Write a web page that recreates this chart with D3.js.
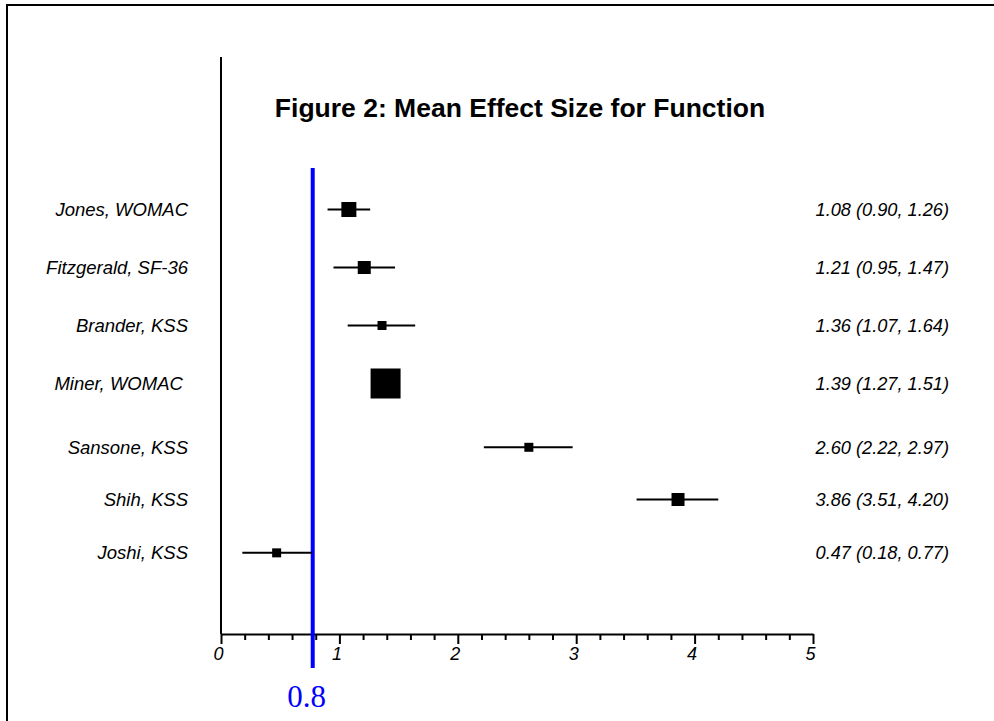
<!DOCTYPE html>
<html>
<head>
<meta charset="utf-8">
<script src="https://cdn.jsdelivr.net/npm/d3@7"></script>
<style>
  body { margin: 0; background: #fff; }
  svg text { font-family: "Liberation Sans", Arial, sans-serif; }
</style>
</head>
<body>
<svg id="chart" width="994" height="721"></svg>
<script>
var studies = ["Jones, WOMAC", "Fitzgerald, SF-36", "Brander, KSS", "Miner, WOMAC ", "Sansone, KSS", "Shih, KSS", "Joshi, KSS"],
  effect = [1.08, 1.21, 1.36, 1.39, 2.60, 3.86, 0.47],
  lower = [0.90, 0.95, 1.07, 1.27, 2.22, 3.51, 0.18],
  upper = [1.26, 1.47, 1.64, 1.51, 2.97, 4.20, 0.77],
  weight = [7.5, 6.5, 4.5, 15, 4.5, 6.5, 4.5],
  row = [1, 2, 3, 4, 5.1, 6, 6.92],
  xTicks = [0, 1, 2, 3, 4, 5],
  refValue = 0.8,
  refLabel = "0.8",
  title = "Figure 2: Mean Effect Size for Function";

var svg = d3.select("#chart");

// frame around the figure
svg.append("rect")
  .attr("x", 7).attr("y", 5)
  .attr("width", 1000).attr("height", 730)
  .attr("fill", "none")
  .attr("stroke", "#000")
  .attr("stroke-width", 2);

var x = d3.scaleLinear()
  .domain([0, 5])
  .range([221, 813]);

var y = d3.scaleLinear()
  .domain([1, 2])
  .range([209.5, 267.5]);

var size = d3.scaleLinear()
  .domain([0, 15])
  .range([0, 30]);

// title
svg.append("text")
  .attr("x", 520)
  .attr("y", 117)
  .attr("text-anchor", "middle")
  .style("font-size", "26.5px")
  .style("font-weight", "bold")
  .text(title);

// y axis line
svg.append("line")
  .attr("x1", x(0)).attr("x2", x(0))
  .attr("y1", 57).attr("y2", 634)
  .attr("stroke", "#000")
  .attr("stroke-width", 2);

// minor ticks
var minor = d3.range(0, 50).map(function (i) { return i / 10; })
  .filter(function (v, i) { return i % 2 == 0 && i % 10 != 0; });

svg.append("g")
  .attr("transform", "translate(0,634)")
  .call(d3.axisBottom(x).tickValues(minor).tickSize(6).tickSizeOuter(0).tickFormat(""))
  .call(function (g) { g.select(".domain").remove(); })
  .selectAll("line").attr("stroke-width", 2);

var xAxis = svg.append("g")
  .attr("transform", "translate(0,634)")
  .call(d3.axisBottom(x).tickValues(xTicks).tickSize(10).tickSizeOuter(0).tickFormat(d3.format("d")));

xAxis.select(".domain").attr("stroke-width", 2);
xAxis.selectAll("line").attr("stroke-width", 2);
xAxis.selectAll("text")
  .style("font-family", "'Liberation Sans', Arial, sans-serif")
  .style("font-size", "18px")
  .style("font-style", "italic")
  .attr("fill", "#000")
  .attr("dx", -3)
  .attr("y", 13);

// reference line
svg.append("line")
  .attr("x1", x(refValue) - 3).attr("x2", x(refValue) - 3)
  .attr("y1", 168).attr("y2", 668)
  .attr("stroke", "#0000ff")
  .attr("stroke-width", 4);

svg.append("text")
  .attr("x", x(refValue) - 9)
  .attr("y", 707)
  .attr("text-anchor", "middle")
  .attr("fill", "#0000ff")
  .style("font-size", "31px")
  .style("font-family", "'Liberation Serif', 'Times New Roman', serif")
  .text(refLabel);

var rows = svg.append("g").selectAll("g")
  .data(studies)
  .join("g");

rows.append("line")
  .attr("x1", function (d, i) { return x(lower[i]); })
  .attr("x2", function (d, i) { return x(upper[i]); })
  .attr("y1", function (d, i) { return y(row[i]); })
  .attr("y2", function (d, i) { return y(row[i]); })
  .attr("stroke", "#000")
  .attr("stroke-width", 2);

rows.append("rect")
  .attr("x", function (d, i) { return x(effect[i]) - size(weight[i]) / 2; })
  .attr("y", function (d, i) { return y(row[i]) - size(weight[i]) / 2; })
  .attr("width", function (d, i) { return size(weight[i]); })
  .attr("height", function (d, i) { return size(weight[i]); })
  .attr("fill", "#000");

rows.append("text")
  .attr("x", 188)
  .attr("y", function (d, i) { return y(row[i]); })
  .attr("dy", "0.35em")
  .attr("text-anchor", "end")
  .style("font-size", "18.5px")
  .style("font-style", "italic")
  .style("white-space", "pre")
  .text(function (d) { return d; });

rows.append("text")
  .attr("x", 949)
  .attr("y", function (d, i) { return y(row[i]); })
  .attr("dy", "0.35em")
  .attr("text-anchor", "end")
  .style("font-size", "18.2px")
  .style("font-style", "italic")
  .text(function (d, i) {
    return effect[i].toFixed(2) + " (" + lower[i].toFixed(2) + ", " + upper[i].toFixed(2) + ")";
  });
</script>
</body>
</html>
